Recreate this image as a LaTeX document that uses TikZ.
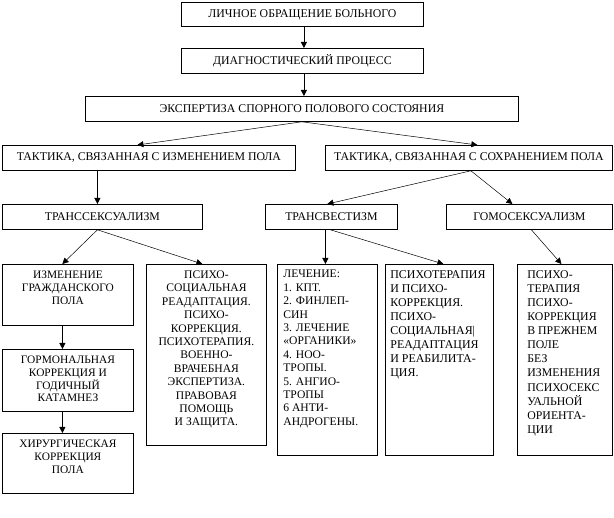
\documentclass[tikz,border=0pt]{standalone}
\usepackage{fontspec}
\setmainfont{Liberation Serif}
\usetikzlibrary{arrows.meta}
\newcommand{\cbox}[3]{\parbox[c][#1][t]{#2}{\centering\vspace*{6.5pt}#3}}
\newcommand{\lbox}[3]{\parbox[c][#1][t]{#2}{\raggedright\vspace*{6pt}#3}}
\begin{document}
\begin{tikzpicture}[x=1pt,y=-1pt,
  bx/.style={draw, line width=0.8pt, inner sep=0pt, anchor=north west,
    font=\fontsize{11.8}{13.5}\selectfont},
  con/.style={line width=0.5pt, -{Triangle[length=6pt,width=6pt]}},
]
\useasboundingbox (0,0) rectangle (614,518);
\node[bx, minimum width=242pt, minimum height=24pt] (b1) at (181,2) {ЛИЧНОЕ ОБРАЩЕНИЕ БОЛЬНОГО};
\node[bx, minimum width=242pt, minimum height=25pt] (b2) at (181,48) {ДИАГНОСТИЧЕСКИЙ ПРОЦЕСС};
\node[bx, minimum width=433pt, minimum height=25pt] (b3) at (85,96) {ЭКСПЕРТИЗА СПОРНОГО ПОЛОВОГО СОСТОЯНИЯ};
\node[bx, minimum width=293pt, minimum height=25pt] (b4) at (2,145) {ТАКТИКА, СВЯЗАННАЯ С ИЗМЕНЕНИЕМ ПОЛА};
\node[bx, minimum width=287pt, minimum height=25pt] (b5) at (325,145) {ТАКТИКА, СВЯЗАННАЯ С СОХРАНЕНИЕМ ПОЛА};
\node[bx, minimum width=200pt, minimum height=25pt] (ts) at (2,204) {ТРАНССЕКСУАЛИЗМ};
\node[bx, minimum width=132pt, minimum height=25pt] (tv) at (265,204) {ТРАНСВЕСТИЗМ};
\node[bx, minimum width=166pt, minimum height=25pt] (gm) at (446,204) {ГОМОСЕКСУАЛИЗМ};

\node[bx, font=\fontsize{11.4}{12.8}\selectfont] (c1) at (2,264) {\cbox{61pt}{131pt}{ИЗМЕНЕНИЕ\\ ГРАЖДАНСКОГО\\ ПОЛА}};
\node[bx, font=\fontsize{11.4}{12.8}\selectfont] (c2) at (2,349) {\cbox{62pt}{131pt}{ГОРМОНАЛЬНАЯ\\ КОРРЕКЦИЯ И\\ ГОДИЧНЫЙ\\ КАТАМНЕЗ}};
\node[bx, font=\fontsize{11.4}{12.8}\selectfont] (c3) at (2,433) {\cbox{60pt}{131pt}{ХИРУРГИЧЕСКАЯ\\ КОРРЕКЦИЯ\\ ПОЛА}};
\node[bx, font=\fontsize{11.6}{13.4}\selectfont] (ps) at (146,264) {\cbox{181pt}{120pt}{ПСИХО-\\ СОЦИАЛЬНАЯ\\ РЕАДАПТАЦИЯ.\\ ПСИХО-\\ КОРРЕКЦИЯ.\\ ПСИХОТЕРАПИЯ.\\ ВОЕННО-\\ ВРАЧЕБНАЯ\\ ЭКСПЕРТИЗА.\\ ПРАВОВАЯ\\ ПОМОЩЬ\\ И ЗАЩИТА.}};
\node[bx, inner xsep=0pt, font=\fontsize{11.6}{13.4}\selectfont] (le) at (277,264) {\hspace*{6pt}\lbox{191pt}{94pt}{ЛЕЧЕНИЕ:\\ 1. КПТ.\\ 2. ФИНЛЕП-\\ СИН\\ 3. ЛЕЧЕНИЕ\\ «ОРГАНИКИ»\\ 4. НОО-\\ ТРОПЫ.\\ 5. АНГИО-\\ ТРОПЫ\\ 6 АНТИ-\\ АНДРОГЕНЫ.}};
\node[bx, inner xsep=0pt, font=\fontsize{11.9}{14}\selectfont] (pt) at (385,264) {\hspace*{5pt}\lbox{191pt}{103pt}{ПСИХОТЕРАПИЯ\\ И ПСИХО-\\ КОРРЕКЦИЯ.\\ ПСИХО-\\ СОЦИАЛЬНАЯ|\\ РЕАДАПТАЦИЯ\\ И РЕАБИЛИТА-\\ ЦИЯ.}};
\node[bx, inner xsep=0pt, font=\fontsize{11.8}{14.1}\selectfont] (rb) at (517,264) {\hspace*{10pt}\lbox{191pt}{85pt}{ПСИХО-\\ ТЕРАПИЯ\\ ПСИХО-\\ КОРРЕКЦИЯ\\ В ПРЕЖНЕМ\\ ПОЛЕ\\ БЕЗ\\ ИЗМЕНЕНИЯ\\ ПСИХОСЕКС\\ УАЛЬНОЙ\\ ОРИЕНТА-\\ ЦИИ}};

\draw[con] ([xshift=1.5pt]b1.south) -- ([xshift=1.5pt]b1.south |- b2.north);
\draw[con] ([xshift=1.5pt]b2.south) -- ([xshift=1.5pt]b2.south |- b3.north);
\draw[con] (b3.south) -- ([xshift=-11.5pt]b4.north);
\draw[con] (b3.south) -- ([xshift=8.5pt]b5.north);
\draw[con] ([xshift=-51.5pt]b4.south) -- ([xshift=-51.5pt]b4.south |- ts.north);
\draw[con] ([xshift=2pt]b5.south) -- ([xshift=-4pt]tv.north);
\draw[con] ([xshift=2pt]b5.south) -- ([xshift=-17pt]gm.north);
\draw[con] ([xshift=-5pt]ts.south) -- ([xshift=-5.5pt]c1.north);
\draw[con] ([xshift=-5pt]ts.south) -- ([xshift=-4pt]ps.north);
\draw[con] ([xshift=-6pt]tv.south) -- ([xshift=-6pt]tv.south |- le.north);
\draw[con] ([xshift=-1pt]tv.south) -- ([xshift=4pt]pt.north);
\draw[con] ([xshift=2pt]gm.south) -- ([xshift=-3.5pt]rb.north);
\draw[con] ([xshift=-5.5pt]c1.south) -- ([xshift=-5.5pt]c1.south |- c2.north);
\draw[con] ([xshift=-5.5pt]c2.south) -- ([xshift=-5.5pt]c2.south |- c3.north);
\end{tikzpicture}
\end{document}
